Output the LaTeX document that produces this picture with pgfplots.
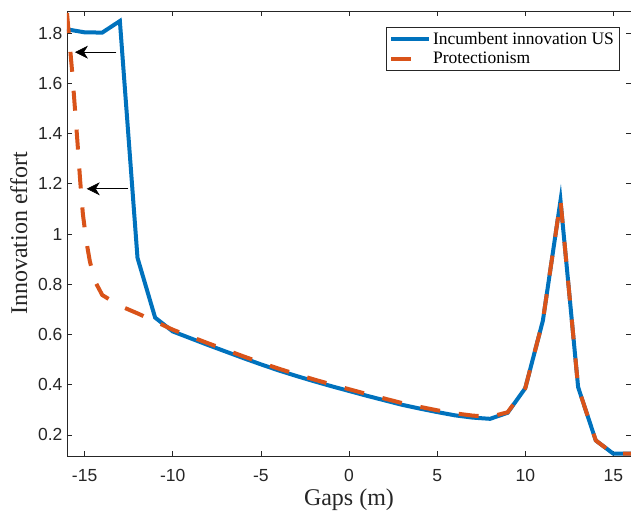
\documentclass[border=0pt]{standalone}
\usepackage{pgfplots}
\pgfplotsset{compat=1.18}
\usepackage{fontspec}
\setmainfont{Liberation Serif}
\newfontfamily\arialfont{Liberation Sans}
\usetikzlibrary{arrows.meta}
\definecolor{mblue}{RGB}{0,114,189}
\definecolor{morange}{RGB}{217,83,25}
\definecolor{axgray}{RGB}{38,38,38}
\begin{document}
\begin{tikzpicture}
\useasboundingbox (-67bp,-65bp) rectangle (564bp,456bp);
\begin{axis}[
  scale only axis, width=564bp, height=445bp,
  xmin=-16, xmax=16, ymin=0.116, ymax=1.888,
  xtick={-15,-10,-5,0,5,10,15},
  xticklabels={-15,-10,-5,0,5,10,15},
  ytick={0.2,0.4,0.6,0.8,1,1.2,1.4,1.6,1.8},
  yticklabels={0.2,0.4,0.6,0.8,1,1.2,1.4,1.6,1.8},
  tick align=inside, major tick length=5bp,
  axis line style={axgray, line width=0.6bp},
  tick style={axgray, line width=0.6bp},
  ticklabel style={font=\arialfont\fontsize{17.5bp}{20bp}\selectfont, text=axgray},
  xticklabel style={yshift=-10bp},
  yticklabel style={xshift=-1bp},
  xlabel={Gaps (m)}, ylabel={Innovation effort},
  label style={font=\fontsize{24bp}{28bp}\selectfont, text=axgray},
  xlabel style={yshift=0bp},
  ylabel style={yshift=4bp},
  legend style={at={(0.979,0.964)}, anchor=north east, draw=axgray, line width=0.5bp,
    font=\fontsize{17.5bp}{20bp}\selectfont, inner xsep=3bp, inner ysep=3bp,
    row sep=2.5bp, cells={anchor=west}},
  legend image code/.code={\draw[#1] (0bp,0bp) -- (38bp,0bp);},
]
\addplot[mblue, line width=4bp] coordinates {
(-16,1.815) (-15,1.803) (-14,1.802) (-13,1.848) (-12,0.905) (-11,0.667)
(-10,0.612) (-9,0.585) (-8,0.558) (-7,0.532) (-6,0.506) (-5,0.481)
(-4,0.457) (-3,0.435) (-2,0.414) (-1,0.394) (0,0.375) (1,0.356)
(2,0.338) (3,0.320) (4,0.305) (5,0.291) (6,0.278) (7,0.269)
(8,0.264) (9,0.288) (10,0.386) (11,0.655) (12,1.133) (13,0.39)
(14,0.178) (15,0.125) (16,0.125)
};
\addlegendentry{Incumbent innovation US}
\addplot[morange, line width=4bp, dash pattern=on 20bp off 19bp] coordinates {
(-16,1.88) (-15.85,1.76) (-15.7,1.64) (-15.55,1.50) (-15.4,1.36) (-15.25,1.21)
(-15.1,1.08) (-14.9,0.97) (-14.7,0.89) (-14.4,0.81) (-14,0.757) (-13,0.714)
(-12,0.684) (-11,0.652) (-10,0.619) (-9,0.592) (-8,0.565) (-7,0.539)
(-6,0.513) (-5,0.488) (-4,0.464) (-3,0.442) (-2,0.421) (-1,0.401)
(0,0.382) (1,0.363) (2,0.345) (3,0.327) (4,0.312) (5,0.298)
(6,0.286) (7,0.277) (8,0.272) (9,0.290) (10,0.386) (11,0.655)
(12,1.133) (13,0.39) (14,0.178) (15,0.125) (16,0.125)
};
\addlegendentry{Protectionism}
\draw[-{Stealth[length=13bp,width=13bp,inset=4bp]}, line width=0.6bp, black]
  (axis cs:-13.2,1.724) -- (axis cs:-15.55,1.724);
\draw[-{Stealth[length=13bp,width=13bp,inset=4bp]}, line width=0.6bp, black]
  (axis cs:-12.52,1.18) -- (axis cs:-14.88,1.18);
\end{axis}
\end{tikzpicture}
\end{document}
